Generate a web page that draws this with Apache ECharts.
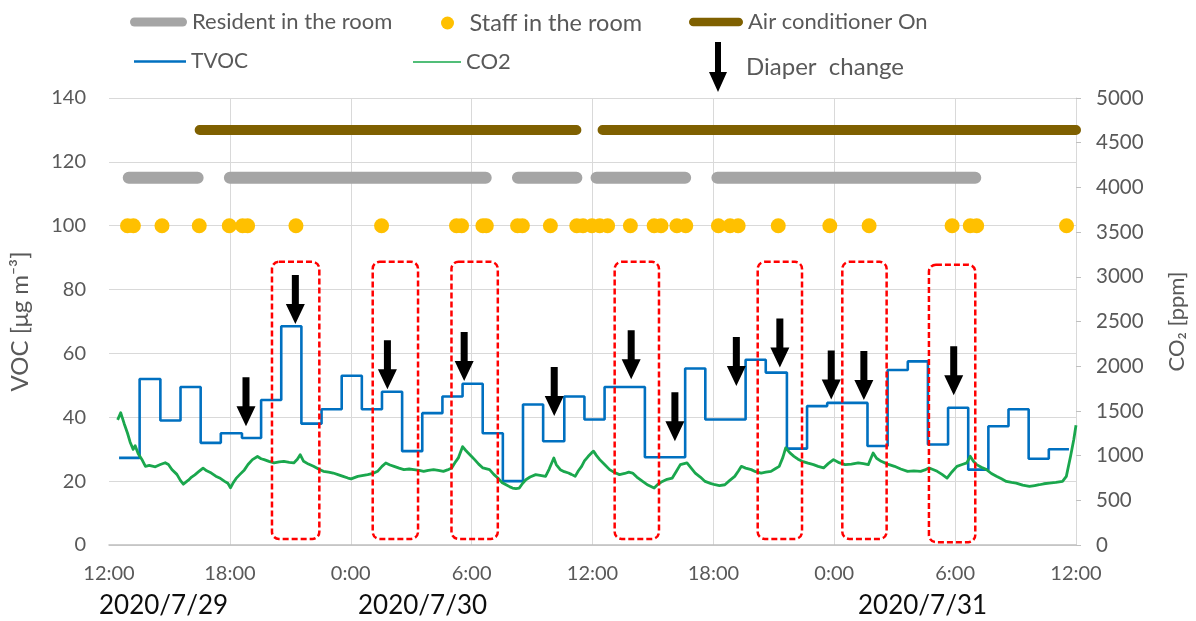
<!DOCTYPE html>
<html><head><meta charset="utf-8">
<script src="https://cdn.jsdelivr.net/npm/echarts@6/dist/echarts.min.js"></script>
<style>html,body{margin:0;padding:0;background:#fff}#c{width:1196px;height:621px}</style>
</head><body><div id="c"></div>
<script>
// hours counted from 2020/7/29 12:00
const xTickLabels = ['12:00','18:00','0:00','6:00','12:00','18:00','0:00','6:00','12:00'];
const dateLabels = ['2020/7/29','2020/7/30','2020/7/31'];
const leftTicks = [0,20,40,60,80,100,120,140];
const rightTicks = [0,500,1000,1500,2000,2500,3000,3500,4000,4500,5000];

const acLevel = 130;
const acSegments = [[4.5, 23.2], [24.5, 48]];
const residentLevel = 115;
const residentSegments = [[0.98, 4.4], [6.0, 18.7], [20.3, 23.2], [24.2, 28.6], [30.2, 43.0]];
const staffLevel = 100;
const staffTimes = [0.92,1.21,2.63,4.48,5.97,6.63,6.88,9.28,13.53,17.25,17.5,18.56,18.73,20.28,20.52,21.91,
  23.22,23.53,23.97,24.36,24.75,25.88,27.06,27.4,28.19,28.63,30.25,30.83,31.23,33.22,35.78,37.73,41.85,42.75,43.07,47.53];

const tvocTimes = [0.5,1.52,2.55,3.55,4.55,5.55,6.6,7.55,8.55,9.55,10.55,11.55,12.55,13.55,14.55,15.55,16.55,
  17.55,18.55,19.55,20.55,21.55,22.6,23.6,24.6,25.6,26.6,27.6,28.6,29.6,30.6,31.6,32.6,33.65,34.65,35.65,36.65,
  37.65,38.65,39.65,40.65,41.65,42.65,43.65,44.65,45.65,46.65];
const tvocValues = [27.3,52,39,49.5,32,35,33.5,45.4,68.5,38,42.5,53,42.5,48,29.4,41.3,46.5,
  50.5,35,20,44,32.5,46.5,39.3,49.5,49.5,27.5,27.5,55.3,39.3,39.3,58,54,30.2,43.5,44.5,44.5,
  31,54.8,57.5,31.5,43,23.6,37.2,42.5,27,30];
const tvocEnd = 47.65;

const co2Times = [0.43,0.58,0.75,0.92,1.05,1.2,1.3,1.45,1.65,1.81,2.0,2.3,2.55,2.79,2.95,3.12,3.37,3.55,3.69,3.94,
  4.1,4.26,4.45,4.67,4.85,5.08,5.3,5.49,5.74,5.9,6.03,6.15,6.31,6.5,6.72,6.9,7.12,7.37,7.55,7.7,7.94,8.19,8.45,8.68,
  8.95,9.17,9.35,9.49,9.66,9.9,10.15,10.4,10.64,10.9,11.13,11.4,11.62,11.86,12.02,12.35,12.84,13.1,13.33,13.55,13.74,
  13.95,14.15,14.4,14.64,14.9,15.13,15.4,15.62,15.85,16.11,16.35,16.6,16.8,17.01,17.2,17.34,17.55,17.7,17.83,18.0,
  18.15,18.35,18.56,18.7,18.89,19.1,19.3,19.5,19.71,19.9,20.03,20.2,20.36,20.5,20.69,20.9,21.18,21.4,21.67,21.85,
  22.08,22.2,22.4,22.6,22.81,22.95,23.14,23.3,23.46,23.6,23.79,23.95,24.05,24.2,24.36,24.6,24.85,25.1,25.34,25.6,
  25.8,25.99,26.2,26.49,26.75,27.06,27.25,27.47,27.7,27.96,28.15,28.36,28.55,28.69,28.9,29.1,29.35,29.59,29.85,
  30.08,30.3,30.57,30.8,31.06,31.25,31.39,31.6,31.88,32.1,32.37,32.6,32.86,33.05,33.27,33.45,33.59,33.8,34.0,34.2,
  34.41,34.7,34.97,35.2,35.47,35.7,35.96,36.2,36.54,36.85,37.19,37.45,37.69,37.8,37.93,38.1,38.33,38.65,38.99,
  39.3,39.64,39.95,40.29,40.5,40.69,40.9,41.11,41.35,41.6,41.85,42.09,42.35,42.58,42.75,42.9,43.07,43.3,43.56,
  43.8,44.05,44.3,44.54,44.8,45.03,45.35,45.69,45.95,46.18,46.4,46.67,47.0,47.33,47.52,47.73,47.89,48.0];
const co2Values = [1400,1480,1360,1250,1150,1070,1110,1020,950,880,890,875,900,920,900,845,790,720,680,725,
  760,785,820,860,830,805,770,750,712,690,640,690,745,790,840,900,955,990,965,955,935,918,930,936,
  925,918,960,1010,936,905,880,850,824,815,805,785,768,749,740,768,787,800,824,880,918,
  895,880,860,843,850,843,835,824,835,843,835,824,840,862,930,974,1100,1060,1030,990,
  955,905,862,855,843,790,749,700,674,650,637,630,637,680,730,760,787,780,768,850,
  974,900,843,820,805,790,768,830,880,940,992,1030,1050,1000,955,900,843,810,787,800,
  815,805,760,711,670,637,680,711,735,749,820,899,910,918,860,805,760,711,690,
  674,665,674,720,768,830,880,860,843,820,805,815,824,850,880,980,1086,1030,992,960,
  936,915,899,880,862,910,955,925,899,905,918,910,899,960,1030,970,936,905,880,
  850,824,830,824,840,862,845,824,790,749,820,880,900,918,992,940,899,870,843,
  800,768,740,711,700,693,670,655,665,674,685,693,700,711,768,992,1180,1340];

const diaperTimes = [6.8,9.25,13.82,17.63,22.1,25.92,28.09,31.14,33.3,35.85,37.47,41.93];
const diaperLevels = [37.2,69.2,48.8,51.4,40.4,51.9,32.5,49.8,55.6,45.6,45.4,46.9];

const boxStart = [8.09,13.09,17.0,25.1,32.2,36.4,40.7];
const boxEnd = [10.44,15.34,19.3,27.3,34.4,38.6,43.0];
const boxTop = [88.7,88.7,88.7,88.7,88.7,88.7,87.8];
const boxBottom = [1.9,1.9,1.9,1.9,1.9,1.9,0.9];

function segData(segs, level) {
  const d = [];
  segs.forEach(s => { d.push([s[0], level]); d.push([s[1], level]); d.push([s[1], '-']); });
  return d;
}
const tvocData = tvocTimes.map((t, i) => [t, tvocValues[i]]);
tvocData.push([tvocEnd, tvocValues[tvocValues.length - 1]]);
const co2Data = co2Times.map((t, i) => [t, co2Values[i]]);
const staffData = staffTimes.map(t => [t, staffLevel]);
const diaperData = diaperTimes.map((t, i) => [t, diaperLevels[i]]);
const boxData = boxStart.map((s, i) => [s, boxEnd[i], boxTop[i], boxBottom[i]]);

const FONT = 'Lato';
const TXT = '#595959';
const barIcon = 'path://M4.5,0 L52.5,0 A4.5,4.5 0 0 1 52.5,9 L4.5,9 A4.5,4.5 0 0 1 4.5,0 Z';
const arrowIcon = 'path://M6,0 L12,0 L12,30 L18,30 L9,50 L0,30 L6,30 Z';

function lg(name, icon, left, top, w, h, fs) {
  return {
    data: [{ name: name, icon: icon }], left: left, top: top, padding: 0,
    itemWidth: w, itemHeight: h, selectedMode: false,
    itemStyle: { borderWidth: 0, opacity: 1 },
    textStyle: { color: TXT, fontSize: fs, fontFamily: FONT }
  };
}

const chart = echarts.init(document.getElementById('c'), null, { renderer: 'canvas' });
chart.setOption({
  animation: false,
  backgroundColor: '#fff',
  textStyle: { fontFamily: FONT },
  grid: { left: 103, right: 114, top: 98, bottom: 76 },
  legend: [
    lg('Resident in the room', barIcon, 130, 11, 57, 9, 22),
    lg('Staff in the room', 'circle', 441, 11, 34, 13, 23.5),
    lg('Air conditioner On', barIcon, 689, 11, 54, 9, 22),
    lg('TVOC', 'path://M0,0 L52,0 L52,2.5 L0,2.5 Z', 134, 51, 52, 2.5, 21),
    lg('CO2', 'path://M0,0 L50,0 L50,1.6 L0,1.6 Z', 413, 51, 48, 1.6, 22),
    lg('Diaper  change', arrowIcon, 709, 42, 46, 50, 24)
  ],
  xAxis: {
    type: 'value', min: 0, max: 48, interval: 6,
    axisLine: { show: true, lineStyle: { color: '#bfbfbf', width: 1.5 } },
    axisTick: { show: false },
    axisLabel: { color: TXT, fontSize: 20, fontFamily: FONT, margin: 19,
      formatter: v => xTickLabels[Math.round(v / 6)] },
    splitLine: { show: true, showMinLine: false, lineStyle: { color: '#d9d9d9' } }
  },
  yAxis: [{
    type: 'value', min: 0, max: 140, interval: 20,
    name: 'VOC [μg m⁻³]', nameLocation: 'middle', nameGap: 77, nameRotate: 90,
    nameTextStyle: { color: TXT, fontSize: 24, fontFamily: FONT },
    axisLine: { show: false }, axisTick: { show: false },
    axisLabel: { color: TXT, fontSize: 20, fontFamily: FONT, margin: 23,
      formatter: v => String(leftTicks[Math.round(v / 20)]) },
    splitLine: { show: true, lineStyle: { color: '#d9d9d9' } }
  }, {
    type: 'value', min: 0, max: 5000, interval: 500, position: 'right',
    name: 'CO₂ [ppm]', nameLocation: 'middle', nameGap: 90, nameRotate: 90,
    nameTextStyle: { color: TXT, fontSize: 22, fontFamily: FONT },
    axisLine: { show: true, lineStyle: { color: '#d9d9d9' } },
    axisTick: { show: true, length: 5, lineStyle: { color: '#bfbfbf' } },
    axisLabel: { color: TXT, fontSize: 20.5, fontFamily: FONT, margin: 20,
      formatter: v => String(rightTicks[Math.round(v / 500)]) },
    splitLine: { show: false }
  }],
  graphic: [
    { type: 'text', left: 99, top: 593, style: { text: dateLabels[0], fill: '#0d0d0d', font: '26px Lato' } },
    { type: 'text', left: 358, top: 593, style: { text: dateLabels[1], fill: '#0d0d0d', font: '26px Lato' } },
    { type: 'text', left: 858, top: 593, style: { text: dateLabels[2], fill: '#0d0d0d', font: '26px Lato' } }
  ],
  series: [
    { name: 'Air conditioner On', type: 'line', data: segData(acSegments, acLevel), showSymbol: false, symbol: 'none',
      color: '#7f6000', lineStyle: { color: '#7f6000', width: 10, cap: 'round' }, itemStyle: { color: '#7f6000' }, z: 2 },
    { name: 'Resident in the room', type: 'line', data: segData(residentSegments, residentLevel), showSymbol: false, symbol: 'none',
      color: '#a5a5a5', lineStyle: { color: '#a5a5a5', width: 12, cap: 'round' }, itemStyle: { color: '#a5a5a5' }, z: 2 },
    { name: 'Staff in the room', type: 'scatter', data: staffData, symbol: 'circle', symbolSize: 15,
      color: '#ffc000', itemStyle: { color: '#ffc000', opacity: 1 }, z: 3 },
    { name: 'TVOC', type: 'line', step: 'end', data: tvocData, showSymbol: false, symbol: 'none',
      color: '#0070c0', lineStyle: { color: '#0070c0', width: 2.6 }, itemStyle: { color: '#0070c0' }, z: 3 },
    { name: 'CO2', type: 'line', yAxisIndex: 1, data: co2Data, showSymbol: false, symbol: 'none',
      color: '#17a84b', lineStyle: { color: '#1aa74d', width: 2.8, join: 'round' }, itemStyle: { color: '#17a84b' }, z: 4 },
    { name: 'boxes', type: 'custom', data: boxData, encode: { x: [0, 1], y: [2, 3] }, z: 5, silent: true,
      renderItem: (params, api) => {
        const p0 = api.coord([api.value(0), api.value(2)]);
        const p1 = api.coord([api.value(1), api.value(3)]);
        return { type: 'rect', shape: { x: p0[0], y: p0[1], width: p1[0] - p0[0], height: p1[1] - p0[1], r: 7 },
          style: { fill: null, stroke: '#ff0000', lineWidth: 2.5, lineDash: [6, 3] } };
      } },
    { name: 'Diaper  change', type: 'custom', data: diaperData, encode: { x: 0, y: 1 }, z: 6,
      color: '#000', itemStyle: { color: '#000' },
      renderItem: (params, api) => {
        const p = api.coord([api.value(0), api.value(1)]);
        const x = p[0], y = p[1];
        return { type: 'polygon', shape: { points: [
          [x - 3.5, y - 49], [x + 3.5, y - 49], [x + 3.5, y - 20], [x + 9.5, y - 20], [x, y],
          [x - 9.5, y - 20], [x - 3.5, y - 20]] }, style: { fill: '#000' } };
      } }
  ]
});
</script></body></html>
